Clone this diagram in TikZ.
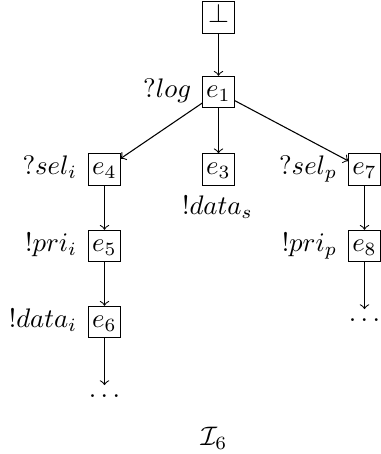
\documentclass[tikz,border=0pt]{standalone}
\begin{document}
\begin{tikzpicture}[x=0.373pt,y=-0.373pt,
  ev/.style={draw, line width=0.4pt, inner sep=0.85pt, minimum width=11.6pt, minimum height=11.6pt, text height=7pt, text depth=3pt},
  lbl/.style={inner sep=0pt},
  arr/.style={->, line width=0.4pt}]
\useasboundingbox (0,0) rectangle (381,454);
% events
\node[ev] (bot) at (218.5,17.5) {$\bot$};
\node[ev] (e1) at (218.5,92) {$e_1$};
\node[ev] (e4) at (104.5,169.5) {$e_4$};
\node[ev] (e3) at (218.5,169.5) {$e_3$};
\node[ev] (e7) at (364.5,169.5) {$e_7$};
\node[ev] (e5) at (104.5,246) {$e_5$};
\node[ev] (e8) at (364.5,246) {$e_8$};
\node[ev] (e6) at (104.5,322) {$e_6$};
\node (d1) at (104.5,396) {$\ldots$};
\node (d2) at (364.5,320) {$\ldots$};
% labels
\node[lbl, anchor=base east] (l1) at ([xshift=-4pt]e1.base west) {$?log$};
\node[lbl, anchor=base east] (l4) at ([xshift=-4pt]e4.base west) {$?sel_i$};
\node[lbl, anchor=base east] (l7) at ([xshift=-4pt]e7.base west) {$?sel_p$};
\node[lbl, anchor=base east] (l5) at ([xshift=-4pt]e5.base west) {$!pri_i$};
\node[lbl, anchor=base east] (l8) at ([xshift=-4pt]e8.base west) {$!pri_p$};
\node[lbl, anchor=base east] (l6) at ([xshift=-4pt]e6.base west) {$!data_i$};
\node[lbl, anchor=base] (l3) at (217.5,214) {$!data_s$};
\node (title) at (214,438) {$\mathcal{I}_6$};
% edges
\draw[arr] (bot) -- (e1);
\draw[arr] (e1) -- (e4);
\draw[arr] (e1) -- (e3);
\draw[arr] (e1) -- (e7);
\draw[arr] (e4) -- (e5);
\draw[arr] (e5) -- (e6);
\draw[arr] (e6) -- (d1);
\draw[arr] (e7) -- (e8);
\draw[arr] (e8) -- (d2);
\end{tikzpicture}
\end{document}
